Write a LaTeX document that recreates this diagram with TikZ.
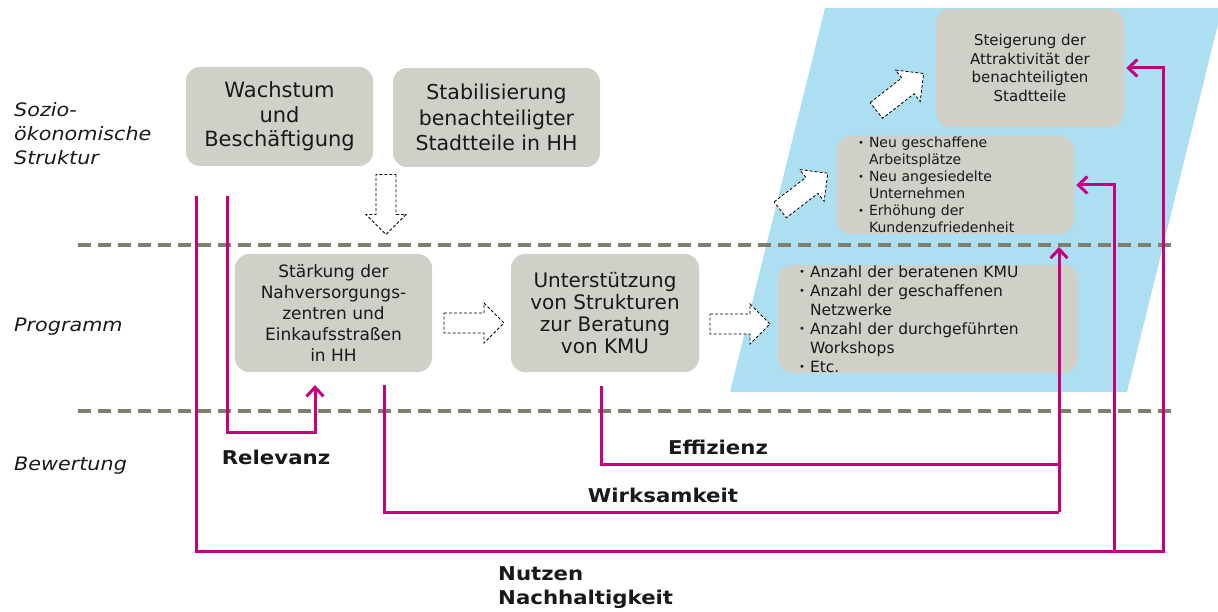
\documentclass[tikz,border=0pt]{standalone}
\usepackage{fontspec}
\setmainfont{DejaVu Sans}
\newfontfamily\stretchfont[FakeStretch=1.12]{DejaVu Sans}
\usetikzlibrary{arrows.meta,calc}
\definecolor{boxgray}{RGB}{208,207,200}
\definecolor{skyblue}{RGB}{173,223,243}
\definecolor{sepgray}{RGB}{127,127,110}
\definecolor{mag}{RGB}{200,0,125}
\definecolor{txt}{RGB}{25,25,25}
\newcommand\bul{\makebox[11pt][l]{\fontsize{10}{10}\selectfont\raisebox{0.15em}{•}}}
\newcommand\ind{\hspace*{11pt}}
\newcommand\blockarrow[3]{\draw[barrow, shift={(#1,#2)}, rotate=#3] (-30,-10) -- (10,-10) -- (10,-20) -- (30,0) -- (10,20) -- (10,10) -- (-30,10) -- cycle;}
\begin{document}
\begin{tikzpicture}[x=1pt,y=-1pt,
  box/.style={fill=boxgray, rounded corners=14pt, inner sep=0pt, align=center, text=txt},
  sep/.style={draw=sepgray, line width=4pt, dash pattern=on 13pt off 7pt},
  barrow/.style={draw=black, line width=0.8pt, dash pattern=on 3pt off 2pt, fill=white},
  conn/.style={draw=mag, line width=3pt},
  arr/.style={conn, -{Straight Barb[length=9pt,width=17pt,line width=3pt]}},
  sidelbl/.style={align=left, inner sep=0pt, text=txt, font=\stretchfont\itshape\fontsize{18.5}{24}\selectfont},
  evallbl/.style={inner sep=0pt, text=txt, font=\stretchfont\bfseries\fontsize{19}{24}\selectfont}]
\useasboundingbox (0,0) rectangle (1218,612);
% blue parallelogram
\fill[skyblue] (730,392) -- (1127,392) -- (1222,8) -- (825,8) -- cycle;
% separators
\draw[sep] (78,245) -- (1178,245);
\draw[sep] (78,411) -- (1178,411);
% side labels
\node[sidelbl, anchor=west] (soz) at (14,134) {Sozio-\\ökonomische\\Struktur};
\node[sidelbl, anchor=west] (prog) at (14,327) {Programm};
\node[sidelbl, anchor=west] (bew) at (14,466) {Bewertung};
% boxes
\node[box, minimum width=187pt, minimum height=99pt, font=\fontsize{21}{24.5}\selectfont] (wachstum) at (279.5,116.5) {Wachstum\\und\\Beschäftigung};
\node[box, minimum width=207pt, minimum height=99pt, font=\fontsize{20.5}{25.5}\selectfont] (stabil) at (496.5,117.5) {Stabilisierung\\benachteiligter\\Stadtteile in HH};
\node[box, minimum width=197pt, minimum height=118pt, font=\fontsize{17}{21}\selectfont] (staerkung) at (333.5,313) {Stärkung der\\Nahversorgungs-\\zentren und\\Einkaufsstraßen\\in HH};
\node[box, minimum width=188pt, minimum height=118pt, font=\fontsize{20}{22}\selectfont] (unterst) at (605,313) {Unterstützung\\von Strukturen\\zur Beratung\\von KMU};
\node[box, text width=258pt, inner xsep=21pt, minimum height=108pt, align=left, font=\fontsize{15.5}{19}\selectfont] (output) at (928,319) {\bul Anzahl der beratenen KMU\\\bul Anzahl der geschaffenen\\\ind Netzwerke\\\bul Anzahl der durchgeführten\\\ind Workshops\\\bul Etc.};
\node[box, text width=195pt, inner xsep=21pt, minimum height=98pt, align=left, font=\fontsize{14}{17}\selectfont] (neu) at (955.5,185) {\bul Neu geschaffene\\\ind Arbeitsplätze\\\bul Neu angesiedelte\\\ind Unternehmen\\\bul Erhöhung der\\\ind Kundenzufriedenheit};
\node[box, minimum width=188pt, minimum height=118pt, font=\fontsize{15}{18.7}\selectfont] (steig) at (1030,68) {Steigerung der\\Attraktivität der\\benachteiligten\\Stadtteile};
% block arrows
\blockarrow{386}{204.5}{-90}
\blockarrow{474}{323}{0}
\blockarrow{740}{324}{0}
\blockarrow{804}{191.5}{37.6}
\blockarrow{900}{92}{38}
% connectors
\coordinate (r0) at (227,196);
\coordinate (n0) at (196,196);
\coordinate (n1) at (1163,551);
\coordinate (n2) at (1114,551);
\coordinate (w1) at (1059,512);
\coordinate (e1) at (1059,464);
\coordinate (wt) at (1059,247);
\draw[arr] (r0) |- ($(staerkung.south)+(-18.5,60)$) -- ($(staerkung.south)+(-18.5,13)$);
\draw[conn] ($(staerkung.south)+(50.5,13)$) |- (w1);
\draw[conn] ($(unterst.south)+(-4,14)$) |- (e1);
\draw[arr] (w1) -- (wt);
\draw[arr] (n0) |- (n1) |- ($(steig.east)+(2,0)$);
\draw[arr] (n2) |- ($(neu.east)+(2,0)$);
% evaluation labels
\node[evallbl] (rel) at (276,457) {Relevanz};
\node[evallbl] (eff) at (718,447) {Effizienz};
\node[evallbl] (wirk) at (663,495) {Wirksamkeit};
\node[evallbl, align=left, anchor=west] (nutz) at (498,588) {Nutzen\\Nachhaltigkeit};
\end{tikzpicture}
\end{document}
